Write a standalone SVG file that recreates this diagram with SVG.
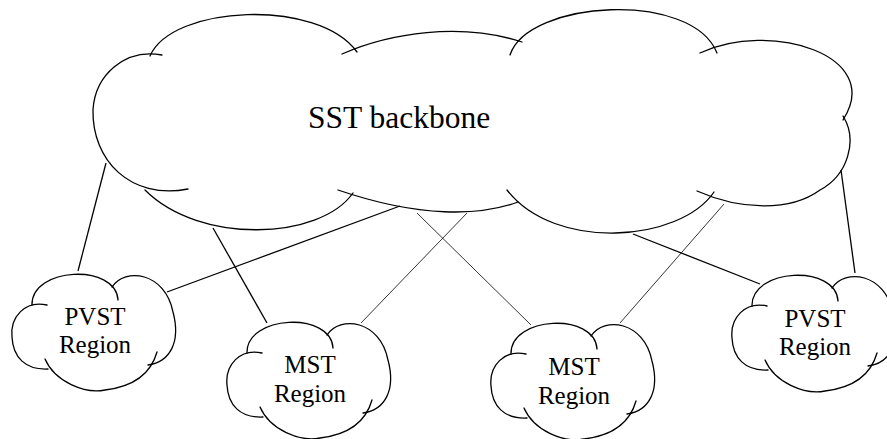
<svg xmlns="http://www.w3.org/2000/svg" width="887" height="439" viewBox="0 0 887 439">
  <style>
    .edge { fill: none; stroke: #000; stroke-width: 1.3; stroke-linecap: round; stroke-linejoin: round; }
    .wire { stroke: #000; stroke-width: 1.3; fill: none; }
    .thin { stroke: #000; stroke-width: 0.8; fill: none; }
    text { font-family: 'Liberation Serif', 'DejaVu Serif', serif; fill: #000; }
    .big { font-size: 31.5px; }
    .small { font-size: 25px; text-anchor: middle; }
  </style>
  <defs>
    <!-- small cloud outline, centred on its own origin -->
    <g id="smallCloud">
      <path class="edge" d="M -63,-27 C -64,-65 21,-69 23,-32"/>
      <path class="edge" d="M 17,-45 C 30,-65 70,-60 78,-20 C 86,10 75,30 53,33"/>
      <path class="edge" d="M -48,-27 C -70,-32 -85,-15 -83,5 C -82,25 -70,38 -47,37"/>
      <path class="edge" d="M -50,27 C -40,50 -10,62 10,58 C 35,55 55,45 62,20"/>
    </g>
  </defs>
  <rect width="887" height="439" fill="#fff"/>

  <g id="connectors">
    <line class="wire" x1="106" y1="163" x2="78" y2="271"/>
    <line class="wire" x1="400" y1="206" x2="167" y2="292"/>
    <line class="wire" x1="213" y1="228" x2="267" y2="323"/>
    <line class="thin" x1="417" y1="213" x2="531" y2="325"/>
    <line class="thin" x1="467" y1="213" x2="361" y2="323"/>
    <line class="thin" x1="724" y1="204" x2="620" y2="323"/>
    <line class="wire" x1="633" y1="234" x2="760" y2="284"/>
    <line class="wire" x1="841" y1="170" x2="855" y2="273"/>
  </g>

  <g id="sst-backbone">
    <path class="edge" d="M 162,55 C 125,48 95,75 93,110 C 92,160 130,200 188,189"/>
    <path class="edge" d="M 150,56 C 172,5 318,-2 357,52"/>
    <path class="edge" d="M 342,54 C 390,33 460,22 522,42"/>
    <path class="edge" d="M 510,55 C 528,0 692,-10 717,53"/>
    <path class="edge" d="M 700,53 C 770,20 885,55 843,120"/>
    <path class="edge" d="M 843,116 C 858,140 848,175 820,190 C 790,212 740,210 697,191"/>
    <path class="edge" d="M 714,192 C 680,242 555,252 507,190"/>
    <path class="edge" d="M 518,202 C 480,216 420,218 338,190"/>
    <path class="edge" d="M 353,193 C 320,240 200,245 145,190"/>
    <text class="big" x="308" y="128" font-family="Liberation Serif, serif">SST backbone</text>
  </g>

  <g id="pvst-left">
    <use href="#smallCloud" transform="translate(95,332)"/>
    <text class="small" x="95" y="325" font-family="Liberation Serif, serif">PVST</text>
    <text class="small" x="95" y="353" font-family="Liberation Serif, serif">Region</text>
  </g>

  <g id="mst-left">
    <use href="#smallCloud" transform="translate(310,380)"/>
    <text class="small" x="310" y="373" font-family="Liberation Serif, serif">MST</text>
    <text class="small" x="310" y="402" font-family="Liberation Serif, serif">Region</text>
  </g>

  <g id="mst-right">
    <use href="#smallCloud" transform="translate(574,381)"/>
    <text class="small" x="574" y="375" font-family="Liberation Serif, serif">MST</text>
    <text class="small" x="574" y="404" font-family="Liberation Serif, serif">Region</text>
  </g>

  <g id="pvst-right">
    <use href="#smallCloud" transform="translate(815,333)"/>
    <text class="small" x="815" y="327" font-family="Liberation Serif, serif">PVST</text>
    <text class="small" x="815" y="355" font-family="Liberation Serif, serif">Region</text>
  </g>
</svg>
